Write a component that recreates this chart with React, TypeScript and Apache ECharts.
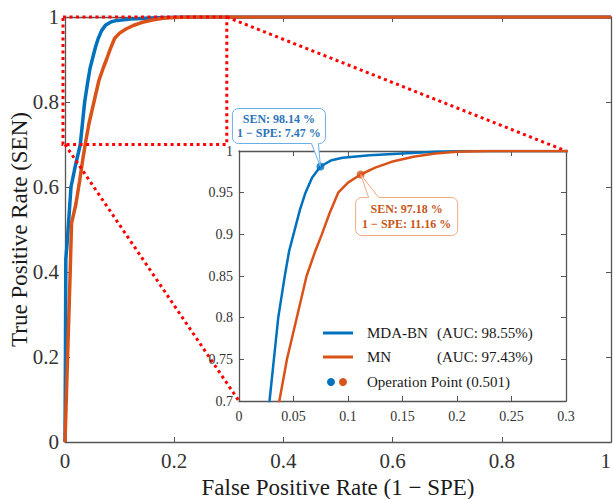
import React, { useEffect, useRef } from "react";
import * as echarts from "echarts";

// ---------------- data ----------------
const seriesNames = ["MDA-BN", "MN"];
const aucValues = [98.55, 97.43];
const opThreshold = 0.501;

const mdaFpr = [0, 0.0008, 0.0015, 0.004, 0.011, 0.019, 0.028, 0.032, 0.036, 0.042, 0.046, 0.05, 0.056, 0.061, 0.067, 0.0747, 0.085, 0.095, 0.12, 0.15, 0.18, 0.21, 1];
const mdaTpr = [0, 0.2, 0.43, 0.47, 0.6, 0.65, 0.7, 0.75, 0.8, 0.85, 0.88, 0.9, 0.93, 0.95, 0.968, 0.9814, 0.989, 0.992, 0.995, 0.997, 0.999, 1, 1];

const mnFpr = [0, 0.0047, 0.0095, 0.012, 0.02, 0.027, 0.032, 0.037, 0.044, 0.053, 0.062, 0.07, 0.076, 0.083, 0.091, 0.1, 0.1116, 0.125, 0.14, 0.16, 0.18, 0.2, 0.23, 1];
const mnTpr = [0, 0.2, 0.4, 0.515, 0.56, 0.616, 0.66, 0.7, 0.75, 0.8, 0.85, 0.88, 0.9, 0.925, 0.95, 0.962, 0.9718, 0.98, 0.987, 0.993, 0.997, 0.999, 1, 1];

const opFpr = [0.0747, 0.1116];
const opTpr = [0.9814, 0.9718];

const mainXRange = [0, 1];
const mainYRange = [0, 1];
const zoomXRange = [0, 0.3];
const zoomYRange = [0.7, 1];

const xTitle = "False Positive Rate (1 − SPE)";
const yTitle = "True Positive Rate (SEN)";

// ---------------- styles ----------------
const FONT = "Liberation Serif";
const BLUE = "#0072BD";
const ORANGE = "#D95319";
const AXIS_COLOR = "#555555";
const LABEL_COLOR = "#333333";

const fmt = (v: number) => String(+Number(v).toFixed(2));

function axis(opts: any, fontSize: number, showLabel: boolean, margin: number, extraLabel: any = {}) {
  return {
    type: "value",
    axisLine: { show: true, onZero: false, lineStyle: { color: AXIS_COLOR, width: 1.3 } },
    axisTick: { show: true, inside: true, length: 5, lineStyle: { color: AXIS_COLOR, width: 1 } },
    axisLabel: { show: showLabel, fontFamily: FONT, fontSize, color: LABEL_COLOR, formatter: fmt, margin, ...extraLabel },
    splitLine: { show: false },
    ...opts,
  };
}

function callout(x: number, y: number, w: number, h: number, r: number, edge: "top" | "bottom", b1: number, b2: number, tip: number[]) {
  const pts: number[][] = [];
  const arc = (cx: number, cy: number, a0: number, a1: number) => {
    for (let i = 0; i <= 5; i++) {
      const a = a0 + ((a1 - a0) * i) / 5;
      pts.push([cx + r * Math.cos(a), cy + r * Math.sin(a)]);
    }
  };
  arc(x + r, y + r, Math.PI, 1.5 * Math.PI);
  if (edge === "top") pts.push([b1, y], tip, [b2, y]);
  arc(x + w - r, y + r, -0.5 * Math.PI, 0);
  arc(x + w - r, y + h - r, 0, 0.5 * Math.PI);
  if (edge === "bottom") pts.push([b2, y + h], tip, [b1, y + h]);
  arc(x + r, y + h - r, 0.5 * Math.PI, Math.PI);
  return pts;
}

export default function App() {
  const ref = useRef<HTMLDivElement>(null);

  useEffect(() => {
    if (!ref.current) return;
    const chart = echarts.init(ref.current, undefined, { renderer: "svg" });

    const zip = (xs: number[], ys: number[]) => xs.map((x, i) => [x, ys[i]]);

    const option: any = {
      animation: false,
      backgroundColor: "#ffffff",
      textStyle: { fontFamily: FONT },
      grid: [
        { left: 65, top: 17, width: 546, height: 425, outerBoundsMode: "none", containLabel: false },
        { left: 239, top: 151, width: 327, height: 250, show: true, backgroundColor: "#ffffff", borderWidth: 0, z: 5, outerBoundsMode: "none", containLabel: false },
      ],
      xAxis: [
        axis({ gridIndex: 0, min: mainXRange[0], max: mainXRange[1], interval: 0.2, position: "bottom",
          name: xTitle, nameLocation: "middle", nameGap: 29,
          nameTextStyle: { fontFamily: FONT, fontSize: 23, color: "#1a1a1a" } }, 21, true, 8, { alignMaxLabel: "right" }),
        axis({ gridIndex: 0, min: mainXRange[0], max: mainXRange[1], interval: 0.2, position: "top" }, 21, false, 8),
        axis({ gridIndex: 1, min: zoomXRange[0], max: zoomXRange[1], interval: 0.05, position: "bottom", z: 6 }, 14, true, 8),
        axis({ gridIndex: 1, min: zoomXRange[0], max: zoomXRange[1], interval: 0.05, position: "top", z: 6 }, 14, false, 8),
      ],
      yAxis: [
        axis({ gridIndex: 0, min: mainYRange[0], max: mainYRange[1], interval: 0.2, position: "left",
          name: yTitle, nameLocation: "middle", nameGap: 34, nameMoveOverlap: false,
          nameTextStyle: { fontFamily: FONT, fontSize: 23, color: "#1a1a1a" } }, 21, true, 6),
        axis({ gridIndex: 0, min: mainYRange[0], max: mainYRange[1], interval: 0.2, position: "right" }, 21, false, 6),
        axis({ gridIndex: 1, min: zoomYRange[0], max: zoomYRange[1], interval: 0.05, position: "left", z: 6 }, 14, true, 6),
        axis({ gridIndex: 1, min: zoomYRange[0], max: zoomYRange[1], interval: 0.05, position: "right", z: 6 }, 14, false, 6),
      ],
      series: [
        { name: seriesNames[0], type: "line", xAxisIndex: 0, yAxisIndex: 0, data: zip(mdaFpr, mdaTpr), showSymbol: false, symbol: "none",
          lineStyle: { color: BLUE, width: 3.5 }, z: 2 },
        { name: seriesNames[1], type: "line", xAxisIndex: 0, yAxisIndex: 0, data: zip(mnFpr, mnTpr), showSymbol: false, symbol: "none",
          lineStyle: { color: ORANGE, width: 3.5 }, z: 2 },
        { name: seriesNames[0] + " zoom", type: "line", xAxisIndex: 2, yAxisIndex: 2, data: zip(mdaFpr, mdaTpr), showSymbol: false, symbol: "none",
          lineStyle: { color: BLUE, width: 2.5 }, z: 7, clip: true },
        { name: seriesNames[1] + " zoom", type: "line", xAxisIndex: 2, yAxisIndex: 2, data: zip(mnFpr, mnTpr), showSymbol: false, symbol: "none",
          lineStyle: { color: ORANGE, width: 2.5 }, z: 7, clip: true },
        { name: "Operation Point", type: "scatter", xAxisIndex: 2, yAxisIndex: 2, symbolSize: 8, z: 8,
          data: [
            { value: [opFpr[0], opTpr[0]], itemStyle: { color: BLUE } },
            { value: [opFpr[1], opTpr[1]], itemStyle: { color: ORANGE } },
          ] },
      ],
    };
    chart.setOption(option);

    const px = (gi: number, x: number, y: number) => chart.convertToPixel({ gridIndex: gi } as any, [x, y]) as number[];

    const zTL = px(0, zoomXRange[0], zoomYRange[1]);
    const zBR = px(0, zoomXRange[1], zoomYRange[0]);
    const iTR = px(1, zoomXRange[1], zoomYRange[1]);
    const iBL = px(1, zoomXRange[0], zoomYRange[0]);
    const iBR = px(1, zoomXRange[1], zoomYRange[0]);

    const dotted = { stroke: "#FF0000", lineWidth: 3, lineDash: [3, 3.5], fill: "none" };

    const graphics: any[] = [
      { type: "rect", z: 4, shape: { x: zTL[0] - 2, y: zTL[1], width: zBR[0] - zTL[0], height: zBR[1] - zTL[1] }, style: { ...dotted } },
      { type: "line", z: 4, shape: { x1: zBR[0] - 2, y1: zTL[1], x2: iTR[0], y2: iTR[1] }, style: { ...dotted } },
      { type: "line", z: 4, shape: { x1: zTL[0], y1: zBR[1], x2: iBL[0], y2: iBL[1] }, style: { ...dotted } },
    ];

    // callouts
    const bDot = px(1, opFpr[0], opTpr[0]);
    const oDot = px(1, opFpr[1], opTpr[1]);
    const pct = (v: number) => (v * 100).toFixed(2) + " %";
    const bx = bDot[0] - 88, by = bDot[1] - 58, bw = 93, bh = 35;
    graphics.push({
      type: "polygon", z: 10,
      shape: { points: callout(bx, by, bw, bh, 6, "bottom", bDot[0] - 9, bDot[0] - 2, bDot) },
      style: { fill: "#ffffff", stroke: "#6AAEE3", lineWidth: 1 },
    });
    graphics.push({
      type: "text", z: 11,
      style: { text: "SEN: " + pct(opTpr[0]) + "\n1 − SPE: " + pct(opFpr[0]), x: bx + bw / 2, y: by + bh / 2,
        align: "center", verticalAlign: "middle", fontFamily: FONT, fontWeight: "bold", fontSize: 12, lineHeight: 14, fill: "#2A74B8" },
    });
    const ox = oDot[0] - 5, oy = oDot[1] + 23, ow = 102, oh = 38;
    graphics.push({
      type: "polygon", z: 10,
      shape: { points: callout(ox, oy, ow, oh, 6, "top", oDot[0] + 8, oDot[0] + 18, oDot) },
      style: { fill: "#ffffff", stroke: "#F2A97F", lineWidth: 1 },
    });
    graphics.push({
      type: "text", z: 11,
      style: { text: "SEN: " + pct(opTpr[1]) + "\n1 − SPE: " + pct(opFpr[1]), x: ox + ow / 2, y: oy + oh / 2,
        align: "center", verticalAlign: "middle", fontFamily: FONT, fontWeight: "bold", fontSize: 12, lineHeight: 15, fill: "#C8561A" },
    });

    // legend
    const R = iBR[0], B = iBR[1];
    const rows = [B - 68, B - 44, B - 19];
    const lx1 = R - 243, lx2 = R - 213, tx = R - 199, ax = R - 129;
    [BLUE, ORANGE].forEach((c, i) => {
      graphics.push({ type: "line", z: 10, shape: { x1: lx1, y1: rows[i], x2: lx2, y2: rows[i] }, style: { stroke: c, lineWidth: 3 } });
      graphics.push({ type: "text", z: 10, style: { text: seriesNames[i], x: tx, y: rows[i], verticalAlign: "middle", fontFamily: FONT, fontSize: 15, fill: "#1a1a1a" } });
      graphics.push({ type: "text", z: 10, style: { text: "(AUC: " + aucValues[i].toFixed(2) + "%)", x: ax, y: rows[i], verticalAlign: "middle", fontFamily: FONT, fontSize: 15, fill: "#1a1a1a" } });
    });
    graphics.push({ type: "circle", z: 10, shape: { cx: R - 235, cy: rows[2], r: 4 }, style: { fill: BLUE } });
    graphics.push({ type: "circle", z: 10, shape: { cx: R - 223, cy: rows[2], r: 4 }, style: { fill: ORANGE } });
    graphics.push({ type: "text", z: 10, style: { text: "Operation Point (" + opThreshold.toFixed(3) + ")", x: tx, y: rows[2], verticalAlign: "middle", fontFamily: FONT, fontSize: 15, fill: "#1a1a1a" } });

    chart.setOption({ graphic: graphics });

    return () => chart.dispose();
  }, []);

  return <div ref={ref} style={{ position: "fixed", left: 0, top: 0, width: 613, height: 499 }} />;
}
